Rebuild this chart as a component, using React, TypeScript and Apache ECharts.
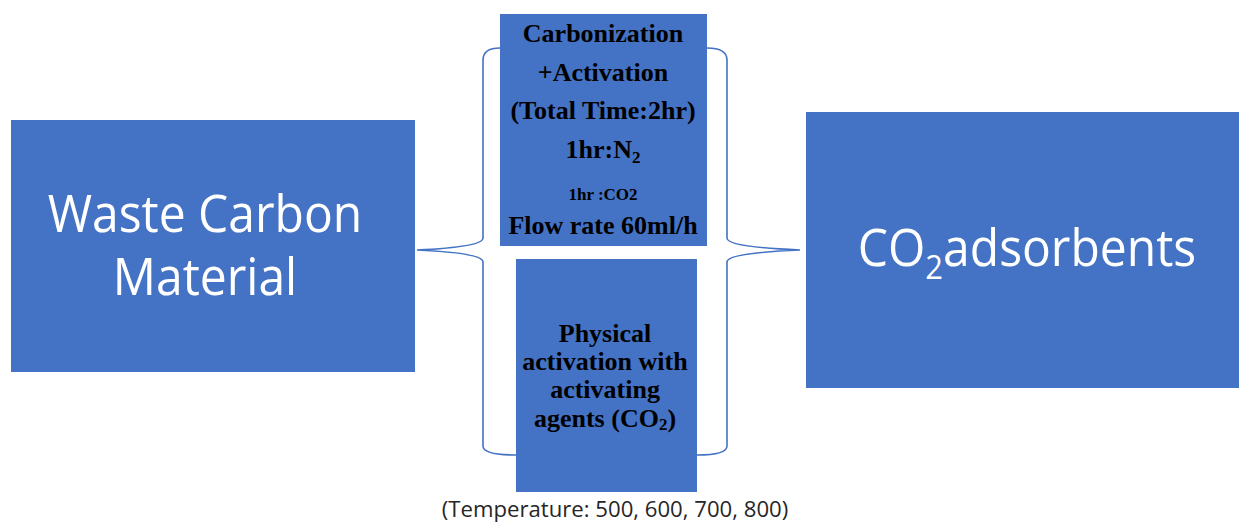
import React, { useEffect, useRef } from "react";
import * as echarts from "echarts";

// ---- content ----
const sourceLines = ["Waste Carbon", "Material"];
const processTopLines = ["Carbonization", "+Activation", "(Total Time:2hr)", "1hr:N_2", "1hr :CO2", "Flow rate 60ml/h"];
const processBottomLines = ["Physical", "activation with", "activating", "agents (CO_2)"];
const productLabel = "CO_2adsorbents";
const temperatures = [500, 600, 700, 800];

const BLUE = "#4472c4";
const SERIF = "'Liberation Serif', 'Times New Roman', serif";
const SANS = "'Open Sans', 'Noto Sans', sans-serif";

// "_2" -> subscript rich token
function toRich(s: string): string {
  const parts = s.split(/_(\d)/);
  let out = "";
  parts.forEach((p, i) => {
    if (p === "") return;
    out += i % 2 === 1 ? `{s|${p}}` : `{m|${p}}`;
  });
  return out;
}

const braceLeft =
  "M 500 48 Q 483 48 483 60 L 483 238 Q 483 247 417 250 Q 483 253 483 262 L 483 446 Q 483 455 516 455";
const braceRight =
  "M 707 48 Q 727 48 727 60 L 727 238 Q 727 247 800 250 Q 727 253 727 262 L 727 446 Q 727 455 697 455";

echarts.graphic.registerShape("braceL", echarts.graphic.extendPath(braceLeft, {}));
echarts.graphic.registerShape("braceR", echarts.graphic.extendPath(braceRight, {}));

export default function App() {
  const ref = useRef<HTMLDivElement>(null);
  useEffect(() => {
    if (!ref.current) return;
    const chart = echarts.init(ref.current, null, { renderer: "svg" });

    const elements: any[] = [];
    const braceStyle = { fill: "none", stroke: BLUE, lineWidth: 1.6 };
    elements.push({ type: "braceL", x: 0, y: 0, style: braceStyle });
    elements.push({ type: "braceR", x: 0, y: 0, style: braceStyle });

    // boxes
    elements.push({ type: "rect", shape: { x: 11, y: 120, width: 404, height: 252 }, style: { fill: BLUE } });
    elements.push({ type: "rect", shape: { x: 806, y: 112, width: 433, height: 276 }, style: { fill: BLUE } });
    elements.push({ type: "rect", shape: { x: 500, y: 14, width: 207, height: 232 }, style: { fill: BLUE } });
    elements.push({ type: "rect", shape: { x: 516, y: 259, width: 181, height: 233 }, style: { fill: BLUE } });

    // left text
    const leftY = [212, 275];
    sourceLines.forEach((t, i) => {
      elements.push({
        type: "text",
        x: 205,
        y: leftY[i],
        scaleY: 1.06,
        style: {
          text: t,
          fill: "#ffffff",
          fontSize: 48,
          fontFamily: SANS,
          align: "center",
          verticalAlign: "middle",
        },
      });
    });

    // right text
    elements.push({
      type: "text",
      x: 1027,
      y: 246,
      scaleY: 1.06,
      style: {
        text: toRich(productLabel),
        align: "center",
        verticalAlign: "middle",
        rich: {
          m: { fontSize: 48, fontFamily: SANS, fill: "#ffffff" },
          s: { fontSize: 31, fontFamily: SANS, fill: "#ffffff", padding: [38, 0, 0, 0] },
        },
      },
    });

    // top process box
    const topY = [33.5, 72.5, 110, 149.5, 194, 225];
    processTopLines.forEach((t, i) => {
      const small = i === 4;
      elements.push({
        type: "text",
        x: 603,
        y: topY[i],
        style: {
          text: toRich(t),
          align: "center",
          verticalAlign: "middle",
          rich: {
            m: { fontSize: small ? 17 : 26, fontFamily: SERIF, fontWeight: "bold", fill: "#000000" },
            s: { fontSize: 17, fontFamily: SERIF, fontWeight: "bold", fill: "#000000", padding: [16, 0, 0, 0] },
          },
        },
      });
    });

    // bottom process box
    const botY = [333, 361, 389, 418];
    processBottomLines.forEach((t, i) => {
      elements.push({
        type: "text",
        x: 605,
        y: botY[i],
        style: {
          text: toRich(t),
          align: "center",
          verticalAlign: "middle",
          rich: {
            m: { fontSize: 26, fontFamily: SERIF, fontWeight: "bold", fill: "#000000" },
            s: { fontSize: 17, fontFamily: SERIF, fontWeight: "bold", fill: "#000000", padding: [13, 0, 0, 0] },
          },
        },
      });
    });

    // temperature label
    elements.push({
      type: "text",
      x: 615,
      y: 509,
      scaleX: 1.055,
      style: {
        text: `(Temperature: ${temperatures.join(", ")})`,
        fill: "#262626",
        fontSize: 21,
        fontFamily: SANS,
        align: "center",
        verticalAlign: "middle",
      },
    });

    chart.setOption({
      animation: false,
      backgroundColor: "#ffffff",
      graphic: { elements },
    });
    return () => chart.dispose();
  }, []);

  return (
    <div
      ref={ref}
      style={{ position: "absolute", left: 0, top: 0, width: 1239, height: 522 }}
    />
  );
}
